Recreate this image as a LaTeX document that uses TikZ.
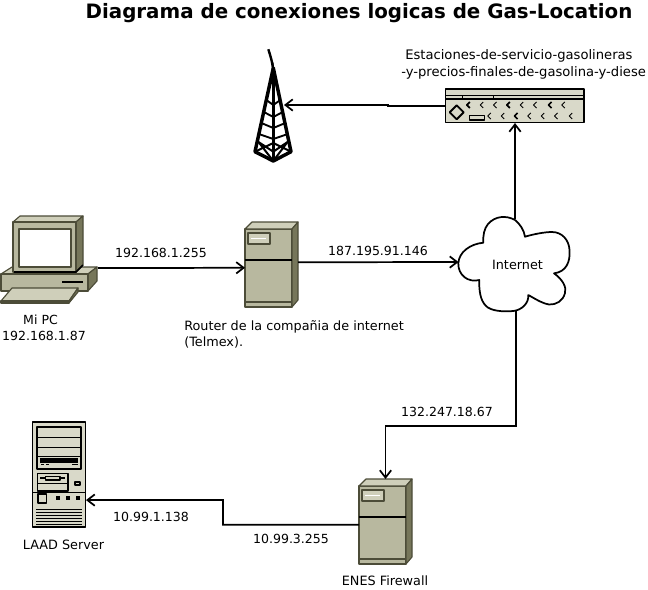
\documentclass[tikz,border=0pt]{standalone}
\usepackage{fontspec}
\setmainfont{DejaVu Sans}
\usetikzlibrary{arrows.meta}
\tikzset{
   to/.style={->,line width=1.3pt,>={Straight Barb[length=5.5pt,width=8.5pt]}},
   hit/.style 2 args={inner sep=0pt,outer sep=0pt,minimum width=#1*0.75pt,minimum height=#2*0.75pt},
   lab/.style={font=\fontsize{9.6pt}{11.6pt}\selectfont,text=black,inner sep=0pt},
   ip/.style={lab,font=\fontsize{9.4pt}{11.6pt}\selectfont},
   edge/.style={draw=boxline,line width=0.85pt,line join=round},
   ink/.style={draw=black,line join=round},
   towerbox/.pic={
     \path[edge,fill=boxfront] (0,7) rectangle (47,85);
     \path[edge,fill=boxtop] (0,7) -- (7,0) -- (53,0) -- (47,7) -- cycle;
     \path[edge,fill=boxside] (47,7) -- (53,0) -- (53,78) -- (47,85) -- cycle;
     \path[edge,fill=boxtop] (3,11) rectangle (25,22);
     \draw[white,line width=0.6pt] (6,16) -- (21,16);
     \draw[black,line width=1.5pt] (0,38) -- (47,38);
     \draw[edge] (0,80) -- (47,80);
   }
}
\definecolor{boxfront}{HTML}{B8B89F}
\definecolor{boxtop}{HTML}{CFCFBA}
\definecolor{boxside}{HTML}{76765A}
\definecolor{boxline}{HTML}{4C4C38}
\definecolor{panel}{HTML}{D9D9C9}
\begin{document}
\begin{tikzpicture}[x=0.75pt,y=-0.75pt]
\useasboundingbox (0,0) rectangle (648,589);
% title
\node[lab,font=\fontsize{14.87pt}{16pt}\selectfont\bfseries] (title) at (359,13) {Diagrama de conexiones logicas de Gas-Location};
% tower
\node[hit={21}{113}] (tower) at (273.5,105) {};
\draw[ink,line width=1.8pt] (268.3,49.3) .. controls (270.5,56) and (272.5,62) .. (273.3,72);
\fill[black] (273.3,62) -- (276.8,84) -- (269.8,84) -- cycle;
\draw[ink,line width=2.6pt] (255,151.7) -- (273.3,68) -- (291,151.7) -- (273.3,161) -- cycle;
\draw[ink,line width=2pt] (273.3,68) -- (273.3,161);
\draw[ink,line width=1.5pt] (255,151.7) -- (273.3,143) -- (291,151.7) (258.5,142) -- (273.3,161) -- (287.5,142) (258.5,142) -- (273.3,151.7) -- (287.5,142);
\foreach \ry/\rx in {134/14.5,123/12,112/9.5,100/7}
  \draw[ink,line width=1.4pt] (273.3-\rx,\ry) -- (273.3,\ry+5) -- (273.3+\rx,\ry);
% switch
\node[hit={138}{34}] (switch) at (515,106) {};
\draw[ink,line width=1.1pt,fill=panel] (445.7,89) rectangle (584,122.7);
\draw[ink,line width=0.8pt] (445.7,95.7) -- (584,95.7);
\draw[ink,line width=1.5pt] (445.7,99) -- (584,99);
\draw[ink,line width=0.8pt] (462.7,95.7) -- (462.7,99) (493.3,95.7) -- (493.3,99);
\draw[ink,line width=1.4pt,fill=panel] (449.7,112.3) -- (456.7,105.3) -- (463.7,112.3) -- (456.7,119.3) -- cycle;
\draw[ink,line width=1.2pt,fill=panel] (469.3,115.3) rectangle (484.3,120);
\foreach \cx in {481.7,495,521.7,535,563.3}
  \draw[ink,line width=0.7pt] (\cx+1.5,102) -- (\cx-1.5,105) -- (\cx+1.5,108);
\foreach \cx in {468.3,508.3,550}
  \draw[ink,line width=1.3pt] (\cx+1.5,102) -- (\cx-1.5,105) -- (\cx+1.5,108);
\foreach \cx in {489.3,502.7,529.3,542.7,556,570.7}
  \draw[ink,line width=0.7pt] (\cx+1.5,113) -- (\cx-1.5,116) -- (\cx+1.5,119);
\draw[ink,line width=1.2pt] (517.5,113) -- (514.5,116) -- (517.5,119);
% pc
\node[hit={97}{87}] (pc) at (49.5,259.5) {};
\path[edge,fill=boxtop] (1,274) -- (12,267) -- (97,267) -- (88,274) -- cycle;
\path[edge,fill=boxside] (88,274) -- (97,267) -- (97,281) -- (88,291) -- cycle;
\path[edge,fill=boxfront] (1,274) rectangle (88,291);
\draw[black,line width=1.5pt] (62,282) -- (83,282);
\path[edge,fill=boxtop] (1,301) -- (12,288) -- (78,288) -- (69,301) -- cycle;
\path[edge,fill=boxside] (69,301) -- (78,288) -- (78,292) -- (69,303) -- cycle;
\path[edge,fill=boxfront] (1,301) rectangle (69,303);
\path[edge,fill=boxtop] (13,222) -- (20,216) -- (83,216) -- (76,222) -- cycle;
\path[edge,fill=boxside] (76,222) -- (83,216) -- (83,265) -- (76,272) -- cycle;
\path[edge,fill=boxfront] (13,222) rectangle (76,272);
\path[edge,fill=white] (19,229) rectangle (71,267);
\draw[black,line width=1.2pt] (14,272) -- (76,272) -- (83,265);
% router and firewall
\pic at (245,222) {towerbox};
\pic at (359,479) {towerbox};
\node[hit={53}{86}] (router) at (271.5,265) {};
\node[hit={53}{85}] (firewall) at (385.5,521.5) {};
% cloud
\node[hit={113}{92},lab] (internet) at (515,265) {};
\draw[ink,line width=1.3pt,fill=white] (515,220)
  .. controls (520,224) and (524,230) .. (525,236.7)
  .. controls (534,234) and (545,232) .. (552,232)
  .. controls (562,232) and (569,240) .. (569.5,250)
  .. controls (570.5,262) and (566,272) .. (554,273.3)
  .. controls (562,279) and (567,287) .. (565,293)
  .. controls (563,301) and (556,305) .. (549,304.5)
  .. controls (541,303) and (534,298) .. (528.3,295)
  .. controls (529,303) and (522,310) .. (513.3,311)
  .. controls (503,312) and (491,311) .. (486,306)
  .. controls (480,300) and (479,290) .. (479.3,280)
  .. controls (468,283) and (458,275) .. (458.3,263.3)
  .. controls (459,252) and (470,244) .. (483.3,242.7)
  .. controls (483,235) and (484,229) .. (488,224)
  .. controls (495,216) and (506,215) .. (515,220) -- cycle;
\node[lab] (internetlab) at (517.5,264.5) {Internet};
% server
\node[hit={54}{106}] (server) at (59,474) {};
\draw[ink,line width=1.4pt,fill=panel] (32.5,421.7) rectangle (85.5,526.7);
\draw[ink,line width=1.4pt] (37.3,427) rectangle (80.7,469);
\draw[ink,line width=0.7pt] (37.3,437.3) -- (80.7,437.3) (37.3,447.3) -- (80.7,447.3) (37.3,456.7) -- (80.7,456.7);
\fill[black] (40,457.5) rectangle (78,462.7);
\draw[ink,line width=0.6pt] (41,464.5) -- (44,464.5) (46,464.5) -- (49,464.5) (72,464.5) -- (78,464.5);
\draw[ink,line width=1.2pt] (37.3,473.3) rectangle (67.7,490.7);
\draw[ink,line width=0.7pt] (37.3,483.3) -- (67.7,483.3);
\draw[ink,line width=0.8pt] (45.7,476.5) rectangle (60,480) (40,478) -- (45,478) (60,478) -- (65,478);
\draw[ink,line width=1.2pt] (75,481.8) rectangle (80,485.2);
\draw[ink,line width=0.7pt] (32.5,492.3) -- (85.5,492.3);
\draw[ink,line width=1.4pt] (38,494.3) rectangle (46.5,503.3);
\foreach \dx in {58.3,68.3,78.3}
  \fill[black] (\dx-2,496.3) rectangle (\dx+2,500.3);
\foreach \vy in {509.5,512.4,515.3,518.2,521.1,524}
  \draw[ink,line width=0.7pt] (36,\vy) -- (82,\vy);
% bends
\coordinate (bendtower) at (388,106);
\coordinate (bendfire) at (385.5,426);
\coordinate (bendserver) at (223,500);
% connectors
\draw[to] (switch.west) -- (bendtower) |- (tower.east);
\draw[to] (internet.north) -- (switch.south);
\draw[to] (pc.350) -- (router.186);
\draw[to] (router.6.5) -- (internet.177);
\draw[to] (internet.271.2) |- (bendfire) -- (firewall.north);
\draw[to] (firewall.187) -| (bendserver) -- (server.316);
% labels
\node[lab,anchor=west,font=\fontsize{9.85pt}{11.6pt}\selectfont] (stations) at (405,56) {Estaciones-de-servicio-gasolineras};
\node[lab,anchor=west,font=\fontsize{9.85pt}{11.6pt}\selectfont] (stations2) at (401,73) {-y-precios-finales-de-gasolina-y-diese};
\node[ip] (pcip) at (161,253) {192.168.1.255};
\node[ip] (routerip) at (378,251) {187.195.91.146};
\node[ip,align=center] (pclab) at (44,328) {Mi PC\hspace{5.2pt}\null\\192.168.1.87};
\node[lab,align=left,anchor=west] (routerlab) at (184,334.5) {Router de la compañia de internet\\(Telmex).};
\node[ip] (fireip) at (447,412) {132.247.18.67};
\node[ip] (serverip) at (151,517) {10.99.1.138};
\node[ip] (fireip2) at (291,539) {10.99.3.255};
\node[lab] (serverlab) at (63.5,545) {LAAD Server};
\node[lab] (firelab) at (385,581) {ENES Firewall};
\end{tikzpicture}
\end{document}
